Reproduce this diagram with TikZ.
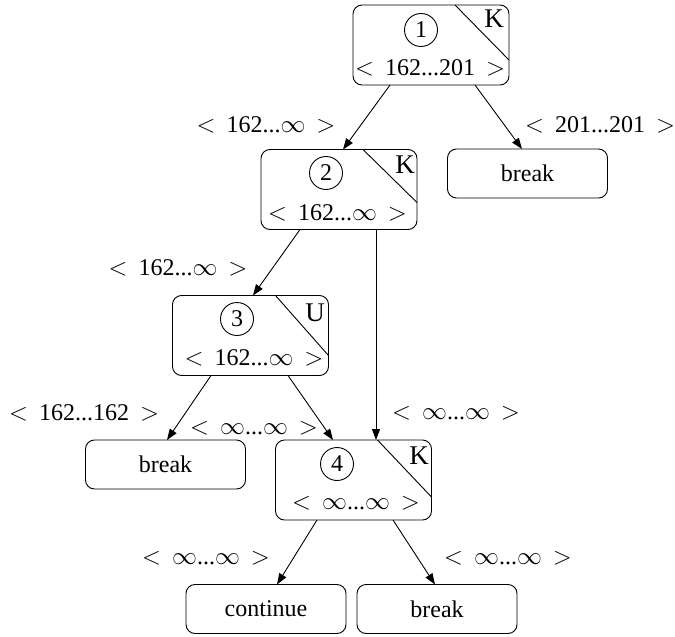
\documentclass[tikz,border=0pt]{standalone}
\usepackage{fontspec}
\setmainfont{Liberation Serif}
\usetikzlibrary{arrows.meta}
% interval label < a...b >
\newcommand{\rng}[2]{$<$\hspace{11pt}#1...#2\hspace{11pt}$>$}
\begin{document}
\begin{tikzpicture}[x=1pt,y=-1pt,
  font=\fontsize{24}{28}\selectfont,
  every node/.style={inner sep=0pt, outer sep=0pt},
  statebox/.style={draw, line width=0.9pt, rounded corners=9pt,
    minimum width=156pt, minimum height=80pt},
  endbox/.style={draw, line width=0.9pt, rounded corners=9pt,
    minimum width=160pt, minimum height=49pt},
  idcircle/.style={draw, circle, line width=0.9pt, minimum size=33pt},
  tag/.style={font=\fontsize{27}{30}\selectfont},
  corner/.style={line width=0.9pt},
  edge/.style={line width=0.9pt, -{Triangle[length=11pt,width=8pt]}},
]
\path[use as bounding box] (0,0) rectangle (675,637);

% decision nodes
\node[statebox] (n1) at (431,45) {};
\node[statebox] (n2) at (339,189.5) {};
\node[statebox] (n3) at (250.5,335.5) {};
\node[statebox] (n4) at (353.5,480) {};

% node numbers
\node[idcircle] (c1) at (421,30) {1};
\node[idcircle] (c2) at (326,173) {2};
\node[idcircle] (c3) at (237,319) {3};
\node[idcircle] (c4) at (337,464) {4};

% corner tags
\draw[corner] ([xshift=-54pt]n1.north east) -- ([yshift=-55pt]n1.north east);
\draw[corner] ([xshift=-54pt]n2.north east) -- ([yshift=-53pt]n2.north east);
\draw[corner] ([xshift=-53pt]n3.north east) -- ([yshift=-60pt]n3.north east);
\draw[corner] ([xshift=-54pt]n4.north east) -- ([yshift=-57pt]n4.north east);
\node[tag] (k1) at (494,19) {K};
\node[tag] (k2) at (405,165) {K};
\node[tag] (k3) at (315,313) {U};
\node[tag] (k4) at (419,456) {K};

% ranges
\node (r1) at (430,68) {\rng{162}{201}};
\node (r2) at (337.5,213) {\rng{162}{$\infty$}};
\node (r3) at (254,358) {\rng{162}{$\infty$}};
\node (r4) at (356,503) {\rng{$\infty$}{$\infty$}};

% terminal nodes
\node[endbox] (b1) at (527.5,173.5) {break};
\node[endbox] (b2) at (165.5,464.5) {break};
\node[endbox] (ct) at (266,609) {continue};
\node[endbox] (b3) at (437,609) {break};

% connectors
\draw[edge] ([xshift=-41pt]n1.south) -- ([xshift=4pt]n2.north);
\draw[edge] ([xshift=44pt]n1.south) -- ([xshift=-5.5pt]b1.north);
\draw[edge] ([xshift=-39pt]n2.south) -- ([xshift=2.5pt]n3.north);
\draw[edge] ([xshift=37pt]n2.south) -- ([xshift=22.5pt]n4.north);
\draw[edge] ([xshift=-39.5pt]n3.south) -- ([xshift=1.5pt]b2.north);
\draw[edge] ([xshift=37.5pt]n3.south) -- ([xshift=-20.5pt]n4.north);
\draw[edge] ([xshift=-36.5pt]n4.south) -- ([xshift=11pt]ct.north);
\draw[edge] ([xshift=39.5pt]n4.south) -- ([xshift=-2pt]b3.north);

% connector labels
\node (l12) at (266,125) {\rng{162}{$\infty$}};
\node (l1b) at (600,125) {\rng{201}{201}};
\node (l23) at (178,268) {\rng{162}{$\infty$}};
\node (l24) at (456,413) {\rng{$\infty$}{$\infty$}};
\node (l3b) at (84,413) {\rng{162}{162}};
\node (l34) at (254,428) {\rng{$\infty$}{$\infty$}};
\node (l4c) at (206,558) {\rng{$\infty$}{$\infty$}};
\node (l4b) at (508,558) {\rng{$\infty$}{$\infty$}};
\end{tikzpicture}
\end{document}
